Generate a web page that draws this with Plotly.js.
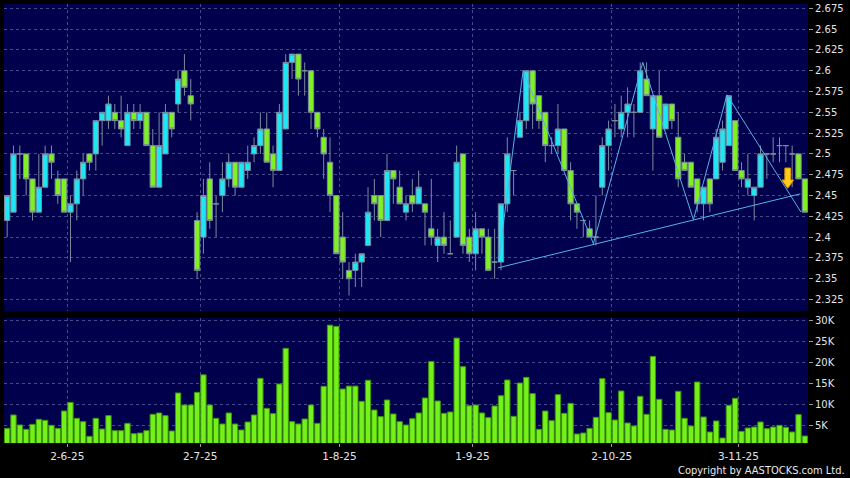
<!DOCTYPE html>
<html><head><meta charset="utf-8">
<script src="https://cdn.plot.ly/plotly-3.0.1.min.js"></script>
<style>html,body{margin:0;padding:0;background:#000;}#chart{width:850px;height:478px;}</style>
</head><body><div id="chart"></div>
<script>
// ---- data ----
const openP = [2.42,2.43,2.50,2.50,2.47,2.43,2.46,2.50,2.47,2.47,
2.43,2.44,2.47,2.50,2.50,2.54,2.54,2.55,2.54,2.51,
2.55,2.54,2.55,2.51,2.46,2.50,2.55,2.56,2.60,2.57,
2.42,2.40,2.47,2.44,2.45,2.47,2.49,2.46,2.48,2.50,
2.51,2.53,2.50,2.48,2.53,2.61,2.62,2.60,2.60,2.55,
2.52,2.49,2.45,2.40,2.36,2.36,2.37,2.39,2.45,2.45,
2.42,2.48,2.46,2.43,2.45,2.44,2.44,2.41,2.39,2.40,
2.38,2.40,2.50,2.40,2.38,2.41,2.40,2.37,2.37,2.44,
2.48,2.52,2.54,2.60,2.57,2.55,2.51,2.51,2.53,2.48,
2.44,2.42,2.41,2.40,2.46,2.51,2.54,2.53,2.55,2.55,
2.55,2.59,2.53,2.57,2.53,2.56,2.52,2.49,2.49,2.47,
2.44,2.47,2.47,2.49,2.51,2.54,2.48,2.46,2.45,2.46,
2.50,2.50,2.51,2.51,2.50,2.50,2.47];
const highP = [2.45,2.51,2.51,2.50,2.47,2.50,2.51,2.51,2.48,2.47,
2.45,2.48,2.50,2.50,2.54,2.55,2.57,2.56,2.57,2.56,
2.56,2.56,2.55,2.53,2.55,2.56,2.55,2.60,2.62,2.59,
2.43,2.47,2.49,2.45,2.49,2.50,2.49,2.49,2.51,2.52,
2.55,2.55,2.51,2.56,2.62,2.62,2.62,2.61,2.60,2.55,
2.53,2.52,2.45,2.43,2.37,2.38,2.38,2.46,2.47,2.45,
2.50,2.48,2.48,2.45,2.47,2.48,2.44,2.47,2.41,2.43,
2.42,2.51,2.50,2.41,2.43,2.41,2.41,2.41,2.44,2.52,
2.48,2.55,2.60,2.60,2.57,2.55,2.52,2.56,2.53,2.49,
2.44,2.42,2.42,2.45,2.52,2.54,2.56,2.57,2.58,2.56,
2.61,2.61,2.57,2.60,2.56,2.56,2.55,2.50,2.49,2.47,
2.46,2.47,2.53,2.54,2.57,2.54,2.49,2.50,2.46,2.51,
2.50,2.52,2.52,2.51,2.51,2.50,2.47];
const lowP = [2.40,2.43,2.47,2.45,2.42,2.43,2.46,2.47,2.44,2.43,
2.37,2.42,2.45,2.48,2.48,2.51,2.53,2.53,2.52,2.51,
2.53,2.53,2.51,2.46,2.46,2.50,2.52,2.55,2.57,2.54,
2.35,2.38,2.41,2.40,2.43,2.46,2.45,2.46,2.47,2.49,
2.50,2.49,2.46,2.48,2.53,2.59,2.57,2.57,2.53,2.52,
2.47,2.43,2.38,2.35,2.33,2.34,2.34,2.39,2.42,2.40,
2.42,2.44,2.44,2.42,2.43,2.44,2.39,2.39,2.37,2.38,
2.38,2.40,2.38,2.37,2.36,2.38,2.36,2.35,2.36,2.43,
2.45,2.52,2.53,2.53,2.53,2.49,2.50,2.50,2.48,2.42,
2.41,2.40,2.40,2.39,2.45,2.48,2.52,2.52,2.52,2.52,
2.55,2.57,2.48,2.52,2.53,2.53,2.46,2.48,2.46,2.43,
2.42,2.43,2.47,2.48,2.51,2.48,2.46,2.45,2.42,2.46,
2.47,2.49,2.49,2.49,2.46,2.47,2.43];
const closeP = [2.45,2.50,2.50,2.47,2.43,2.46,2.50,2.49,2.45,2.43,
2.44,2.47,2.49,2.49,2.54,2.55,2.56,2.54,2.53,2.55,
2.54,2.55,2.51,2.46,2.51,2.55,2.53,2.59,2.58,2.56,
2.36,2.45,2.42,2.44,2.47,2.49,2.46,2.49,2.49,2.51,
2.53,2.49,2.48,2.55,2.61,2.62,2.59,2.60,2.55,2.53,
2.50,2.45,2.38,2.37,2.35,2.37,2.38,2.43,2.44,2.42,
2.48,2.47,2.44,2.44,2.44,2.46,2.43,2.40,2.40,2.39,
2.38,2.49,2.39,2.38,2.41,2.40,2.36,2.37,2.44,2.50,
2.48,2.54,2.60,2.56,2.54,2.51,2.51,2.53,2.48,2.44,
2.43,2.42,2.40,2.40,2.51,2.53,2.54,2.55,2.56,2.55,
2.60,2.57,2.57,2.52,2.56,2.54,2.47,2.48,2.46,2.44,
2.46,2.44,2.52,2.53,2.57,2.48,2.47,2.47,2.46,2.50,
2.50,2.50,2.51,2.51,2.50,2.47,2.43];
// volume in thousands of shares
const volumeK = [4.28,7.48,5.08,4.04,5.24,6.44,6.2,5.0,4.28,8.43,
10.5,6.68,5.88,2.36,6.68,4.12,7.32,3.72,3.72,5.48,
3.0,3.16,3.72,7.64,7.96,7.32,3.64,12.75,9.87,9.87,
12.9,17.1,9.87,6.68,5.32,7.96,5.32,3.88,5.8,7.48,
16.26,9.07,7.8,14.9,23.45,5.88,5.32,6.52,9.87,5.48,
14.35,29.0,28.7,13.7,14.4,14.4,10.75,15.8,8.67,7.08,
11.07,7.72,5.88,5.08,6.6,7.96,11.55,20.3,10.83,7.88,
8.2,25.9,19.06,9.7,9.87,7.96,6.84,9.63,12.1,15.86,
7.16,15.14,16.5,12.6,4.04,8.43,6.12,12.35,7.88,10.27,
2.92,3.16,4.28,6.92,16.18,8.04,6.28,13.23,5.56,4.84,
11.95,7.64,21.5,11.23,4.04,3.88,13.15,6.68,4.84,15.38,
7.0,3.4,6.04,1.96,9.79,11.47,3.56,4.36,4.6,5.8,
4.2,4.6,5.0,4.52,3.4,7.56,2.44];
// month-start sessions (bar index) and their labels
const dateTickIdx = [10, 31, 53, 74, 96, 116];
const dateTickText = ['2-6-25','2-7-25','1-8-25','1-9-25','2-10-25','3-11-25'];
const priceTicks = [2.325,2.35,2.375,2.4,2.425,2.45,2.475,2.5,2.525,2.55,2.575,2.6,2.625,2.65,2.675];
const volTicks = [5,10,15,20,25,30];
const volTickText = ['5K','10K','15K','20K','25K','30K'];
// drawn overlays (zig-zag pattern, support line, sell signal)
const zigIdx = [77.6, 81.5, 92.6, 100.4, 108.4, 113.7, 125.4];
const zigPrice = [2.370, 2.600, 2.392, 2.610, 2.421, 2.571, 2.430];
const trendIdx = [77.5, 125.3];
const trendPrice = [2.363, 2.452];
const signalIdx = 123.3, signalTop = 2.483, signalNeck = 2.4686, signalTip = 2.4587;

// ---- chart ----
const idx = closeP.map((_, i) => i);
const gridCol = 'rgba(125,135,195,0.55)';
const tickFont = {family:'DejaVu Sans, Verdana, sans-serif', size:10, color:'#e4e4e4'};

const traces = [
  {type:'candlestick', x:idx, open:openP, high:highP, low:lowP, close:closeP,
   xaxis:'x', yaxis:'y', whiskerwidth:0, hoverinfo:'skip',
   increasing:{fillcolor:'#1fe6f4', line:{color:'#7b8c9c', width:1}},
   decreasing:{fillcolor:'#7ff021', line:{color:'#7b8c9c', width:1}}},
  {type:'scatter', mode:'lines', x:zigIdx, y:zigPrice, xaxis:'x', yaxis:'y',
   line:{color:'#55b2e6', width:1}, hoverinfo:'skip'},
  {type:'scatter', mode:'lines', x:trendIdx, y:trendPrice, xaxis:'x', yaxis:'y',
   line:{color:'#55b2e6', width:1}, hoverinfo:'skip'},
  {type:'bar', x:idx, y:volumeK, xaxis:'x', yaxis:'y2', hoverinfo:'skip',
   marker:{color:'#74f01a', line:{color:'#3e960c', width:1}}}
];

const hs = 0.92, ss = 0.45;
const arrowPath = 'M ' + (signalIdx-ss) + ',' + signalTop + ' L ' + (signalIdx+ss) + ',' + signalTop +
  ' L ' + (signalIdx+ss) + ',' + signalNeck + ' L ' + (signalIdx+hs) + ',' + signalNeck +
  ' L ' + signalIdx + ',' + signalTip + ' L ' + (signalIdx-hs) + ',' + signalNeck +
  ' L ' + (signalIdx-ss) + ',' + signalNeck + ' Z';

const layout = {
  width:850, height:478,
  margin:{l:4, r:42, t:4, b:35},
  paper_bgcolor:'#000000', plot_bgcolor:'#00004c',
  showlegend:false, hovermode:false,
  boxgap:0.16, boxgroupgap:0, bargap:0.16,
  xaxis:{range:[-0.5,126.5], anchor:'y2', fixedrange:true,
    tickvals:dateTickIdx.map(v => v - 0.5), ticktext:dateTickText,
    ticks:'outside', ticklen:3, tickcolor:'#9a9a9a',
    showgrid:true, gridcolor:gridCol, griddash:'3px,3px', gridwidth:1,
    zeroline:false, showline:false,
    tickfont:{family:'DejaVu Sans, Verdana, sans-serif', size:10.5, color:'#e4e4e4'},
    rangeslider:{visible:false}},
  yaxis:{domain:[0.3007,1], range:[2.3112,2.6802], side:'right', fixedrange:true,
    tickvals:priceTicks, ticktext:priceTicks.map(String),
    ticks:'outside', ticklen:4, tickcolor:'#9a9a9a',
    showgrid:true, gridcolor:gridCol, griddash:'3px,3px', gridwidth:1,
    zeroline:false, showline:false, tickfont:tickFont},
  yaxis2:{domain:[0,0.2847], range:[0.767,30.714], side:'right', fixedrange:true,
    tickvals:volTicks, ticktext:volTickText,
    ticks:'outside', ticklen:4, tickcolor:'#9a9a9a',
    showgrid:true, gridcolor:gridCol, griddash:'3px,3px', gridwidth:1,
    zeroline:false, showline:false, tickfont:tickFont},
  shapes:[{type:'path', xref:'x', yref:'y', path:arrowPath,
    fillcolor:'#ffcc1a', line:{color:'#e89a00', width:1}}],
  annotations:[{text:'Copyright by AASTOCKS.com Ltd.', xref:'paper', yref:'paper',
    x:1.0473, y:-0.0797, xanchor:'right', yanchor:'bottom', showarrow:false, borderpad:0,
    font:{family:"'Liberation Sans Narrow', 'DejaVu Sans Condensed', sans-serif", size:11, color:'#e8e8e8'}}]
};

Plotly.newPlot('chart', traces, layout, {staticPlot:true, displayModeBar:false});
</script>
</body></html>
